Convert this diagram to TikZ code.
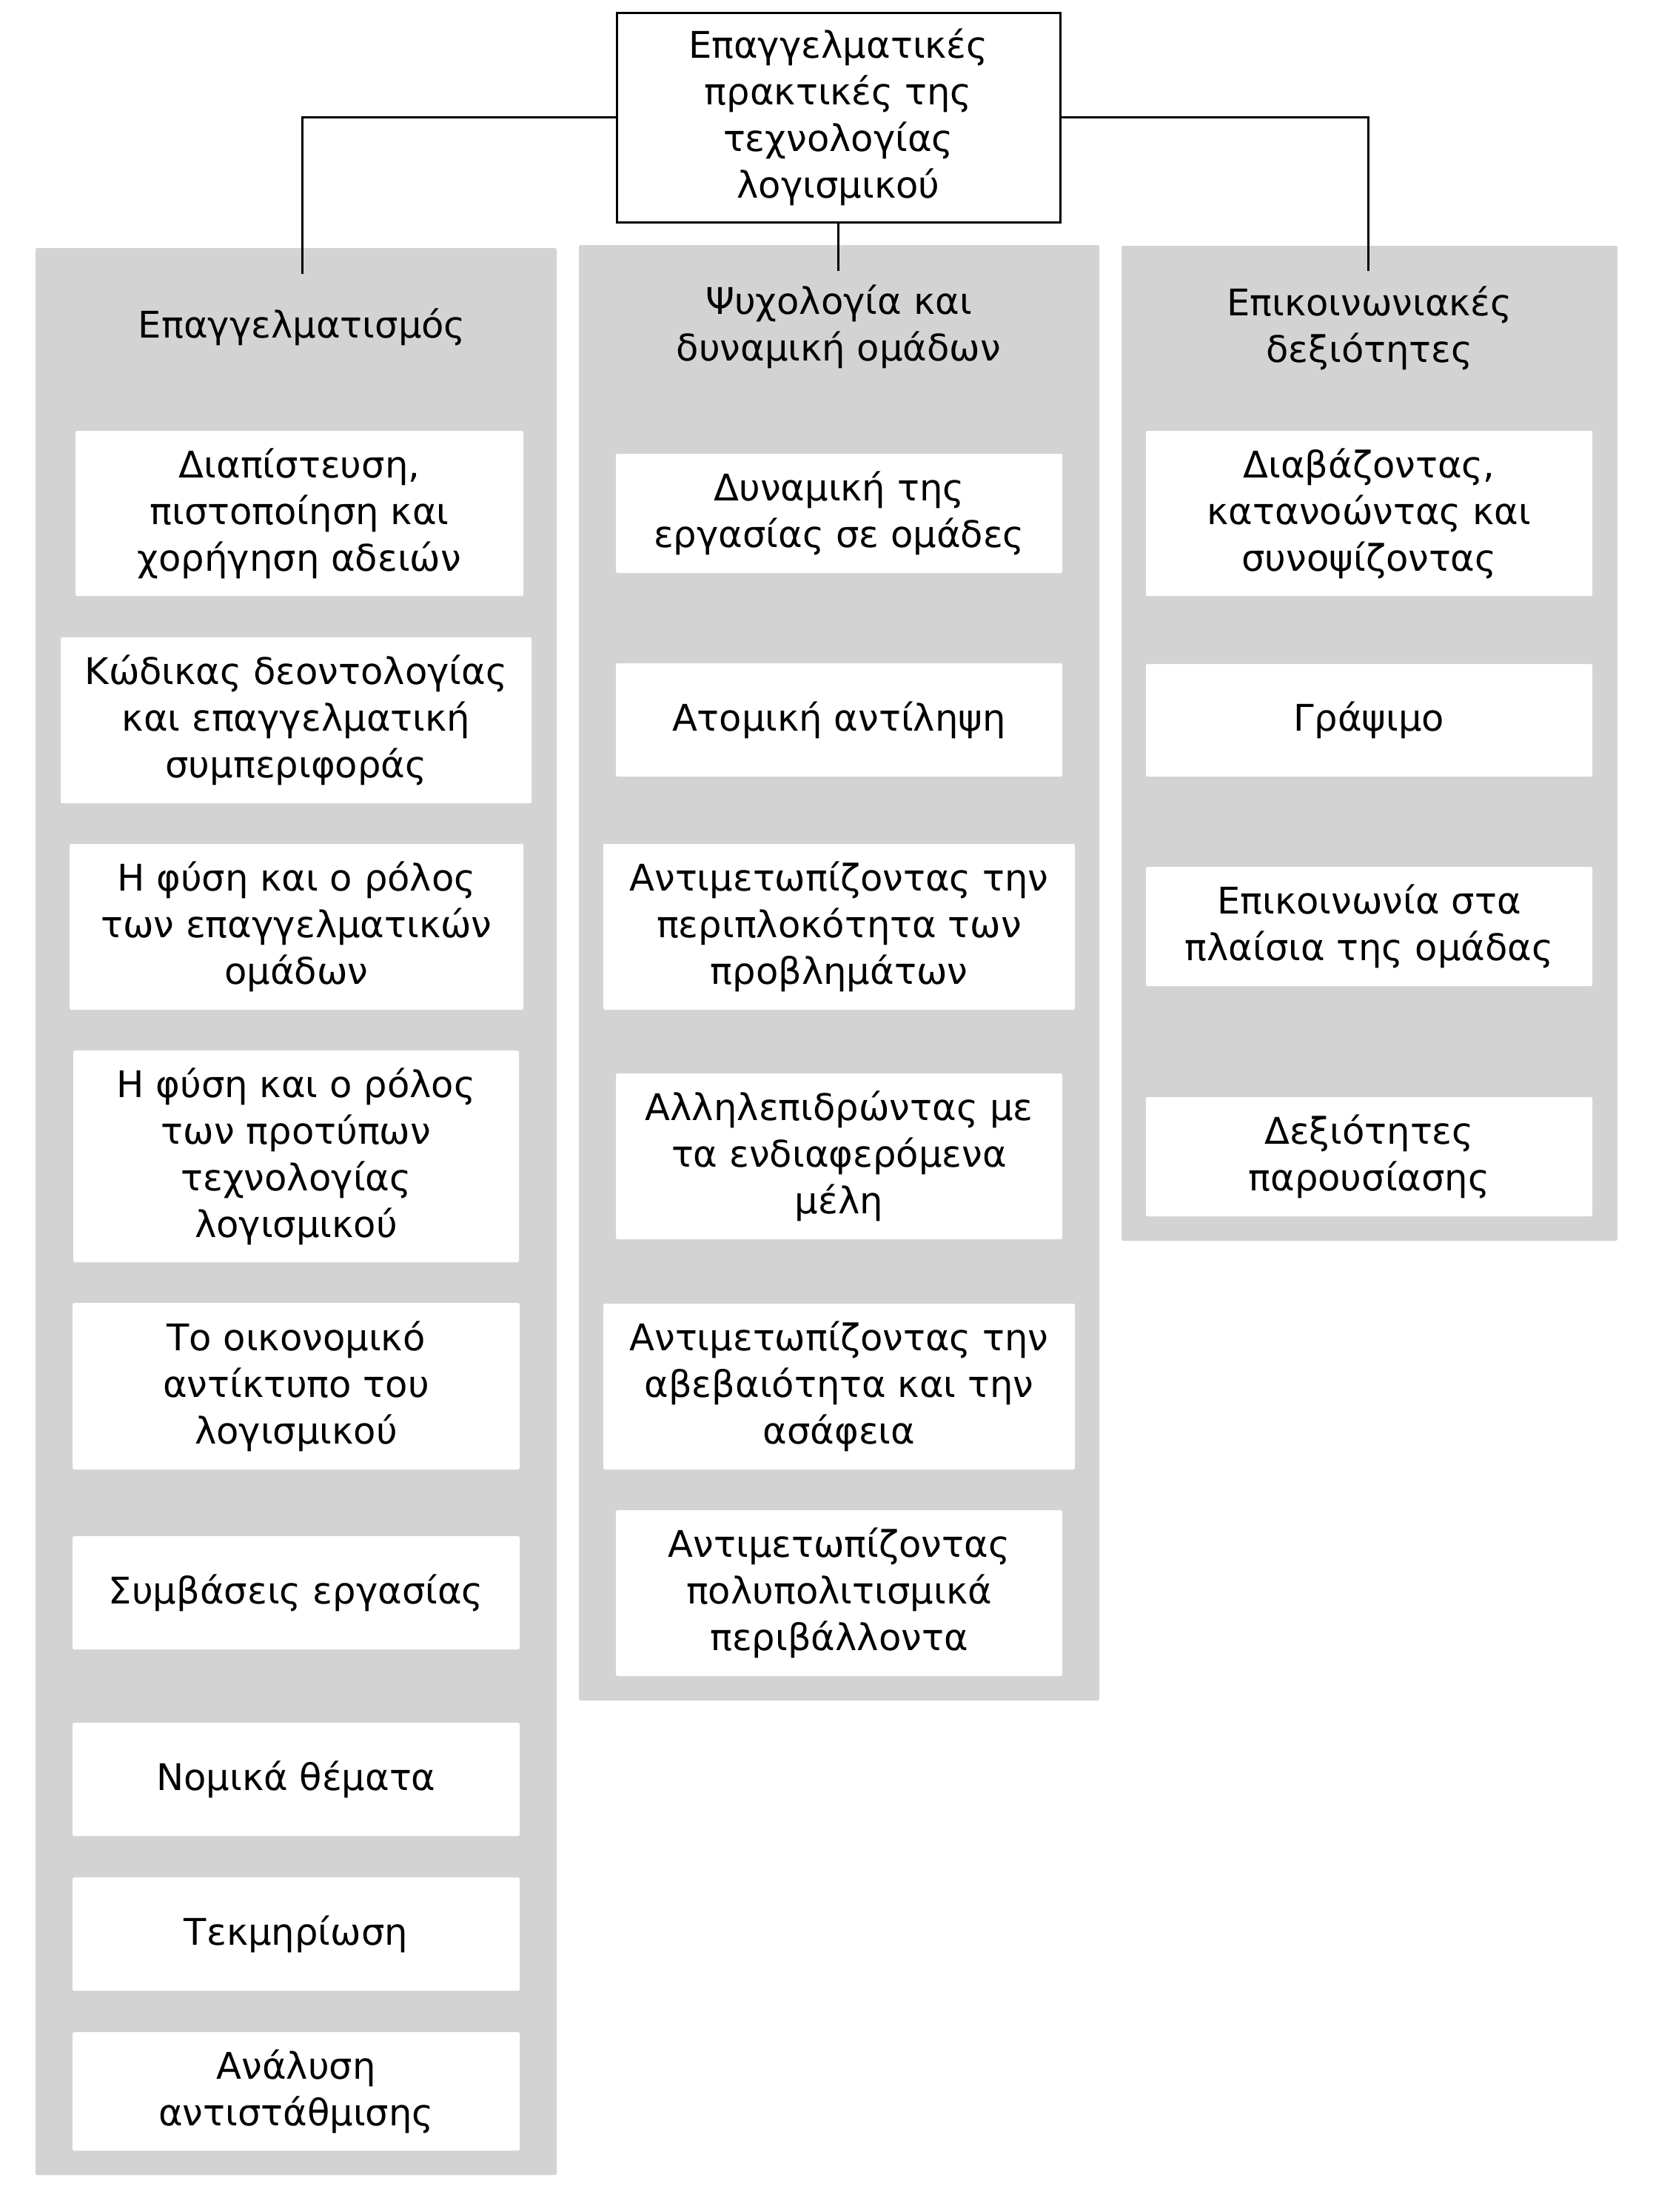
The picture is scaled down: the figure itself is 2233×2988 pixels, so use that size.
\documentclass[tikz,border=0pt]{standalone}
\usepackage{fontspec}
\setmainfont{DejaVu Sans}
\definecolor{colgray}{HTML}{D3D3D3}
\tikzset{
  txt/.style={font=\fontsize{12.4pt}{15.75pt}\selectfont, align=center, text=black},
  wbox/.style 2 args={txt, fill=white, rounded corners=0.6pt, inner sep=0pt,
     minimum width={(#1)*0.25pt}, minimum height={(#2)*0.25pt}},
  colbox/.style 2 args={fill=colgray, rounded corners=0.6pt, inner sep=0pt,
     minimum width={(#1)*0.25pt}, minimum height={(#2)*0.25pt}},
  rootbox/.style 2 args={txt, fill=white, draw=black, line width=0.75pt, inner sep=0pt,
     minimum width={(#1)*0.25pt}, minimum height={(#2)*0.25pt}},
  link/.style={draw=black, line width=0.75pt},
}
\newcommand\mybox[6]{\node[wbox={#4-#2}{#5-#3}] (#1) at ({(#2+#4)/2},{(#3+#5)/2}) {#6};}
\newcommand\mycol[5]{\node[colbox={#4-#2}{#5-#3}] (#1) at ({(#2+#4)/2},{(#3+#5)/2}) {};}
\begin{document}
\begin{tikzpicture}[x=0.25pt,y=-0.25pt]
\useasboundingbox[fill=white] (0,0) rectangle (2233,2988);
% columns
\mycol{colA}{48}{335}{752}{2938}
\mycol{colB}{782}{331}{1485}{2297}
\mycol{colC}{1515}{332}{2185}{1676}
% root
\node[rootbox={1432-833}{300-17}] (root) at ({(833+1432)/2},{(17+300)/2})
  {Επαγγελματικές\\πρακτικές της\\τεχνολογίας\\λογισμικού};
% connector ends
\coordinate (eA) at (408,370);
\coordinate (eB) at (root.south |- 0,366);
\coordinate (eC) at (1848,366);
\draw[link] (root.west) -| (eA);
\draw[link] (root.south) -- (eB);
\draw[link] (root.east) -| (eC);
% headers
\node[txt] (hA) at (408,442) {Επαγγελματισμός};
\node[txt] (hB) at (1133,441) {Ψυχολογία και\\δυναμική ομάδων};
\node[txt] (hC) at (1850,443) {Επικοινωνιακές\\δεξιότητες};
% column A
\mybox{a1}{102}{582}{707}{805}{Διαπίστευση,\\πιστοποίηση και\\χορήγηση αδειών}
\mybox{a2}{82}{861}{718}{1085}{Κώδικας δεοντολογίας\\και επαγγελματική\\συμπεριφοράς}
\mybox{a3}{94}{1140}{707}{1364}{Η φύση και ο ρόλος\\των επαγγελματικών\\ομάδων}
\mybox{a4}{99}{1419}{701}{1705}{Η φύση και ο ρόλος\\των προτύπων\\τεχνολογίας\\λογισμικού}
\mybox{a5}{98}{1760}{702}{1985}{Το οικονομικό\\αντίκτυπο του\\λογισμικού}
\mybox{a6}{98}{2075}{702}{2228}{Συμβάσεις εργασίας}
\mybox{a7}{98}{2327}{702}{2480}{Νομικά θέματα}
\mybox{a8}{98}{2536}{702}{2689}{Τεκμηρίωση}
\mybox{a9}{98}{2745}{702}{2905}{Ανάλυση\\αντιστάθμισης}
% column B
\mybox{b1}{832}{613}{1435}{774}{Δυναμική της\\εργασίας σε ομάδες}
\mybox{b2}{832}{896}{1435}{1049}{Ατομική αντίληψη}
\mybox{b3}{815}{1140}{1452}{1364}{Αντιμετωπίζοντας την\\περιπλοκότητα των\\προβλημάτων}
\mybox{b4}{832}{1450}{1435}{1674}{Αλληλεπιδρώντας με\\τα ενδιαφερόμενα\\μέλη}
\mybox{b5}{815}{1761}{1452}{1985}{Αντιμετωπίζοντας την\\αβεβαιότητα και την\\ασάφεια}
\mybox{b6}{832}{2040}{1435}{2264}{Αντιμετωπίζοντας\\πολυπολιτισμικά\\περιβάλλοντα}
% column C
\mybox{c1}{1548}{582}{2151}{805}{Διαβάζοντας,\\κατανοώντας και\\συνοψίζοντας}
\mybox{c2}{1548}{897}{2151}{1049}{Γράψιμο}
\mybox{c3}{1548}{1171}{2151}{1332}{Επικοινωνία στα\\πλαίσια της ομάδας}
\mybox{c4}{1548}{1482}{2151}{1643}{Δεξιότητες\\παρουσίασης}
\end{tikzpicture}
\end{document}
